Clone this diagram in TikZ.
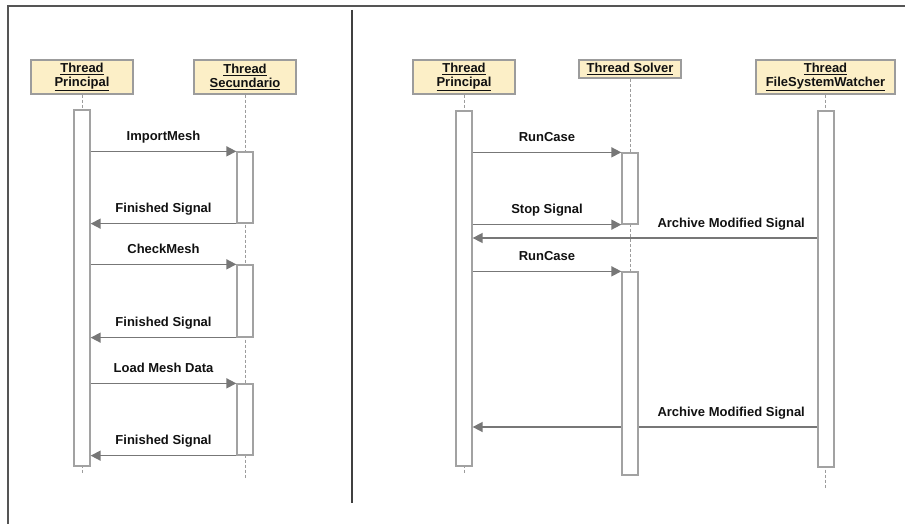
\documentclass[tikz,border=0pt]{standalone}
\usepackage{fontspec}
\setmainfont{Liberation Sans}
\usetikzlibrary{arrows.meta}
\definecolor{hdrfill}{HTML}{FCEFC7}
\definecolor{hdrline}{HTML}{9C9C9C}
\definecolor{actline}{HTML}{A2A2A2}
\definecolor{msgline}{HTML}{777777}
\definecolor{frameline}{HTML}{555555}
\definecolor{txt}{HTML}{111111}
\tikzset{
  hdr/.style={draw=hdrline, fill=hdrfill, line width=1.3pt, text=txt,
    font=\bfseries\fontsize{13}{14}\selectfont, align=center,
    minimum width=102pt, minimum height=34pt, inner sep=0pt},
  actbox/.style={draw=actline, fill=white, line width=1.3pt,
    minimum width=16pt, inner sep=0pt},
  life/.style={draw=hdrline, line width=1pt, dash pattern=on 3pt off 2pt},
  msg/.style={draw=msgline, line width=1.6pt, -{Triangle[length=10pt,width=10pt]}},
  lbl/.style={anchor=base, yshift=11pt, text=txt, inner sep=0pt,
    font=\bfseries\fontsize{13}{14}\selectfont},
  frame/.style={draw=frameline, line width=1.5pt}
}
\begin{document}
\begin{tikzpicture}[x=1pt,y=-1pt]
\useasboundingbox (0,0) rectangle (905,524);
% frame and divider
\coordinate (fbl) at (8,524);
\coordinate (ftl) at (8,6);
\coordinate (ftr) at (905,6);
\draw[frame] (fbl) -- (ftl) -- (ftr);
\coordinate (dtop) at (352,10);
\coordinate (dbot) at (352,503);
\draw[draw=black!75, line width=1.5pt] (dtop) -- (dbot);

% ---------- left panel ----------
\node[hdr] (LP) at (82,77) {\underline{Thread}\\\underline{Principal}};
\node[hdr] (LS) at (245,77) {\underline{Thread}\\\underline{Secundario}};
\draw[life] (LP.south) -- ++(0,379);
\draw[life] (LS.south) -- ++(0,383);
\node[actbox, minimum height=356pt] (LPa) at (82,288) {};

\node[actbox, minimum height=71pt] (LSa1) at (245,187.5) {};
\node[actbox, minimum height=72pt] (LSa2) at (245,301) {};
\node[actbox, minimum height=71pt] (LSa3) at (245,419.5) {};

\draw[msg] (LPa.east |- LSa1.north) -- node[lbl]{ImportMesh} (LSa1.north west);
\draw[msg] (LSa1.south west) -- node[lbl]{Finished Signal} (LPa.east |- LSa1.south);
\draw[msg] (LPa.east |- LSa2.north) -- node[lbl]{CheckMesh} (LSa2.north west);
\draw[msg] (LSa2.south west) -- node[lbl]{Finished Signal} (LPa.east |- LSa2.south);
\draw[msg] (LPa.east |- LSa3.north) -- node[lbl]{Load Mesh Data} (LSa3.north west);
\draw[msg] (LSa3.south west) -- node[lbl]{Finished Signal} (LPa.east |- LSa3.south);

% ---------- right panel ----------
\node[hdr] (RP) at (464,77) {\underline{Thread}\\\underline{Principal}};
\node[hdr, minimum height=18pt] (RS) at (630,69) {\underline{Thread Solver}};
\node[hdr, minimum width=139pt] (RF) at (825.5,77) {\underline{Thread}\\\underline{FileSystemWatcher}};
\draw[life] (RP.south) -- ++(0,379);
\draw[life] (RS.south) -- ++(0,396);
\draw[life] (RF.south) -- ++(0,394);

\coordinate (am1) at (0,238);
\coordinate (am2) at (0,427);
\node[actbox, minimum height=355pt] (RPa) at (464,288.5) {};
\node[actbox, minimum height=356pt] (RFa) at (826,289) {};

\draw[msg] (RFa.west |- am1) -- node[lbl, pos=0.25]{Archive Modified Signal} (RPa.east |- am1);
\draw[msg] (RFa.west |- am2) -- node[lbl, pos=0.25]{Archive Modified Signal} (RPa.east |- am2);

\node[actbox, minimum height=71pt] (RSa1) at (630,188.5) {};
\node[actbox, minimum height=203pt] (RSa2) at (630,373.5) {};

\draw[msg] (RPa.east |- RSa1.north) -- node[lbl]{RunCase} (RSa1.north west);
\draw[msg] (RPa.east |- RSa1.south) -- node[lbl]{Stop Signal} (RSa1.south west);
\draw[msg] (RPa.east |- RSa2.north) -- node[lbl]{RunCase} (RSa2.north west);
\end{tikzpicture}
\end{document}
